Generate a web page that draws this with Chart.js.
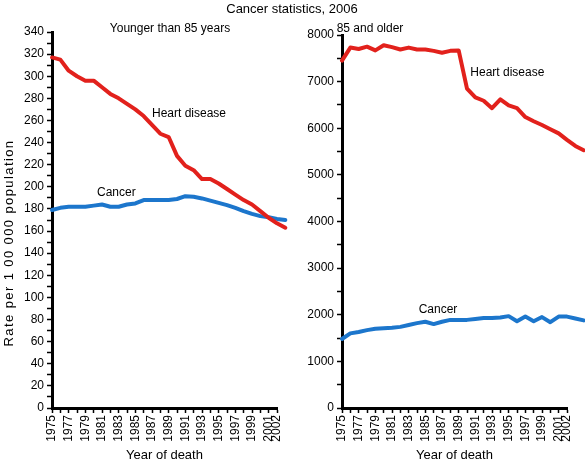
<!DOCTYPE html>
<html><head><meta charset="utf-8">
<script src="https://cdn.jsdelivr.net/npm/chart.js@4/dist/chart.umd.min.js"></script>
<style>
html,body{margin:0;padding:0;background:#fff;}
#wrap{position:relative;width:585px;height:466px;overflow:hidden;font-family:'Liberation Sans',Arial,sans-serif;color:#000;}
.c{position:absolute;top:0;}
.t{position:absolute;font-size:12px;white-space:nowrap;transform:translate(-50%,-50%);}
</style></head><body>
<div id="wrap">
<canvas id="c1" class="c" width="300" height="466" style="left:0"></canvas>
<canvas id="c2" class="c" width="295" height="466" style="left:290px"></canvas>
<div class="t" style="left:292px;top:8px;font-size:13px">Cancer statistics, 2006</div>
<div class="t" style="left:170px;top:28px">Younger than 85 years</div>
<div class="t" style="left:370px;top:28px">85 and older</div>
</div>
<script>
const years = [1975,1976,1977,1978,1979,1980,1981,1982,1983,1984,1985,1986,1987,1988,1989,1990,1991,1992,1993,1994,1995,1996,1997,1998,1999,2000,2001,2002,2003,2004];
const xTickLabels = [1975,1977,1979,1981,1983,1985,1987,1989,1991,1993,1995,1997,1999,2001,2002];
const youngHeart = [317,315,305,300,296,296,290,284,280,275,270,264,256,248,245,228,219,215,207,207,203,198,193,188,184,178,172,167,163];
const youngCancer = [179,181,182,182,182,183,184,182,182,184,185,188,188,188,188,189,191.5,191,189.5,187.5,185.5,183.5,181,178,175.5,173.5,172.5,171,170];
const oldHeart = [7450,7730,7700,7750,7670,7780,7740,7690,7730,7690,7690,7660,7620,7660,7670,6850,6660,6590,6430,6620,6490,6430,6240,6150,6070,5980,5890,5750,5620,5530];
const oldCancer = [1480,1600,1630,1670,1700,1710,1720,1740,1780,1820,1850,1800,1850,1890,1890,1890,1910,1930,1930,1940,1970,1860,1960,1860,1950,1840,1960,1960,1920,1880];
const youngYTicks = {max:340, minor:10, major:20};
const oldYTicks = {max:8000, minor:500, major:1000};

const RED = '#e2211c', BLUE = '#1c76cc';
const FONT = {family:"'Liberation Sans', Arial, sans-serif", size:12};
const TITLE_FONT = {family:"'Liberation Sans', Arial, sans-serif", size:13};

const labelPlugin = {
  id:'seriesLabels',
  afterDatasetsDraw(chart, args, opts){
    const {ctx, scales:{x,y}} = chart;
    ctx.save();
    ctx.font = "12px 'Liberation Sans', Arial, sans-serif";
    ctx.fillStyle = '#000';
    ctx.textBaseline = 'middle';
    ctx.textAlign = 'left';
    (opts.items||[]).forEach(it=>ctx.fillText(it.text, x.getPixelForValue(it.x), y.getPixelForValue(it.y)));
    if (opts.yTitle) {
      ctx.translate(9, 243);
      ctx.rotate(-Math.PI/2);
      ctx.font = "13px 'Liberation Sans', Arial, sans-serif";
      if ('letterSpacing' in ctx) ctx.letterSpacing = '1.4px';
      ctx.textAlign = 'center';
      ctx.fillText(opts.yTitle, 0, 0);
    }
    ctx.restore();
  }
};

function axisCommon(){
  return {
    grid:{drawOnChartArea:false, drawTicks:true, tickLength:5, tickWidth:1.5, tickColor:'#000', color:'#000'},
    border:{display:true, color:'#000', width:3}
  };
}

function makeChart(id, heart, cancer, yt, padTop, padRight, labels, yTitle){
  const mk = arr => arr.map((v,i)=>({x:years[i], y:v}));
  const xs = axisCommon(), ys = axisCommon();
  return new Chart(document.getElementById(id), {
    type:'line',
    data:{datasets:[
      {data:mk(heart), borderColor:RED, backgroundColor:RED, clip:false},
      {data:mk(cancer), borderColor:BLUE, backgroundColor:BLUE, clip:false}
    ]},
    options:{
      responsive:false, animation:false, events:[],
      layout:{padding:{top:padTop, right:padRight, left:0, bottom:0}},
      plugins:{legend:{display:false}, tooltip:{enabled:false}, seriesLabels:{items:labels, yTitle:yTitle}},
      elements:{point:{radius:0}, line:{borderWidth:4, tension:0, borderJoinStyle:'round', borderCapStyle:'round'}},
      scales:{
        x:Object.assign(xs, {
          type:'linear',
          afterDataLimits(s){ s.min = xTickLabels[0]; s.max = xTickLabels[xTickLabels.length-1]; },
          afterFit(s){ s.height = 58; },
          ticks:{stepSize:1, autoSkip:false, maxRotation:90, minRotation:90, padding:2, color:'#000', font:FONT,
            callback(v){ return xTickLabels.includes(v) ? String(v) : ''; }},
          title:{display:true, text:'Year of death', color:'#000', font:TITLE_FONT, padding:{top:0, bottom:3}}
        }),
        y:Object.assign(ys, {
          min:0, max:yt.max,
          afterFit(s){ s.width = 52; },
          ticks:{stepSize:yt.minor, autoSkip:false, padding:3, color:'#000', font:FONT,
            callback(v){ return v % yt.major === 0 ? String(v) : ''; }}
        })
      }
    },
    plugins:[labelPlugin]
  });
}

makeChart('c1', youngHeart, youngCancer, youngYTicks, 32, 23,
  [{text:'Heart disease', x:1987, y:266}, {text:'Cancer', x:1980.4, y:194.5}], 'Rate per 1 00 000 population');
makeChart('c2', oldHeart, oldCancer, oldYTicks, 35, 18,
  [{text:'Heart disease', x:1990.4, y:7185}, {text:'Cancer', x:1984.2, y:2100}], '');
</script>
</body></html>
